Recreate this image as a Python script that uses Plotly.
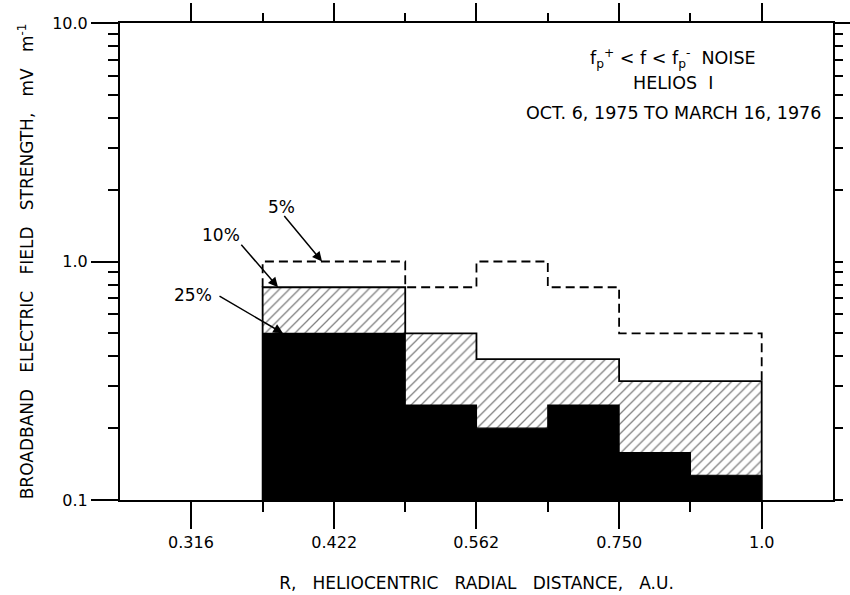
import math
import plotly.graph_objects as go

# ---------------- data ----------------
x_ticks = [0.316, 0.422, 0.562, 0.750, 1.0]
x_labels = ["0.316", "0.422", "0.562", "0.750", "1.0"]
x_minor = [0.3652, 0.4870, 0.6494, 0.8660]
y_ticks = [0.1, 1.0, 10.0]
y_labels = ["0.1", "1.0", "10.0"]
y_minor = [0.2, 0.3, 0.4, 0.5, 0.6, 0.7, 0.8, 0.9, 2, 3, 4, 5, 6, 7, 8, 9]

bin_edges = [0.3652, 0.4870, 0.5623, 0.6494, 0.7499, 0.8660, 1.0]
p5 = [1.0, 0.78, 1.0, 0.78, 0.50, 0.50]
p10 = [0.78, 0.50, 0.39, 0.39, 0.315, 0.315]
p25 = [0.50, 0.25, 0.20, 0.25, 0.158, 0.127]
y_floor = 0.1

FONT = "DejaVu Sans"
SP = "&nbsp;&nbsp;&nbsp;"


def step_polygon(edges, vals, base):
    xs = [edges[0]]
    ys = [base]
    for i, v in enumerate(vals):
        xs += [edges[i], edges[i + 1]]
        ys += [v, v]
    xs += [edges[-1], edges[0]]
    ys += [base, base]
    return xs, ys


fig = go.Figure()

# 10% hatched region
hx, hy = step_polygon(bin_edges, p10, y_floor)
fig.add_trace(go.Scatter(
    x=hx, y=hy, mode="lines", fill="toself",
    fillcolor="white",
    fillpattern=dict(shape="/", fgcolor="black", bgcolor="white", size=7, solidity=0.18),
    line=dict(color="black", width=1.8), hoverinfo="skip", showlegend=False))

# 25% black region
bx, by = step_polygon(bin_edges, p25, y_floor)
fig.add_trace(go.Scatter(
    x=bx, y=by, mode="lines", fill="toself", fillcolor="black",
    line=dict(color="black", width=1.2), hoverinfo="skip", showlegend=False))

# 5% dashed step
dx = [bin_edges[0]]
dy = [p10[0]]
for i, v in enumerate(p5):
    dx += [bin_edges[i], bin_edges[i + 1]]
    dy += [v, v]
dx += [bin_edges[-1]]
dy += [p10[-1]]
fig.add_trace(go.Scatter(
    x=dx, y=dy, mode="lines",
    line=dict(color="black", width=1.8, dash="9px,5px"),
    hoverinfo="skip", showlegend=False))

# invisible trace for the mirrored axes
fig.add_trace(go.Scatter(x=[1.0], y=[1.0], xaxis="x2", yaxis="y2", mode="markers",
                         marker=dict(opacity=0), hoverinfo="skip", showlegend=False))

xr = [-0.5625, 0.0625]
yr = [-1, 1]

fig.update_layout(
    width=850, height=595,
    margin=dict(l=120, r=17, t=23, b=95, autoexpand=False),
    paper_bgcolor="white", plot_bgcolor="white",
    font=dict(family=FONT, size=16, color="black"),
    xaxis=dict(
        type="log", range=xr, tickvals=x_ticks, ticktext=x_labels, automargin=False,
        ticks="outside", ticklen=27, tickwidth=1.5, tickcolor="black",
        showline=True, linewidth=2, linecolor="black", showgrid=False, zeroline=False,
        minor=dict(tickvals=x_minor, ticks="outside", ticklen=10, tickwidth=1.5, tickcolor="black", showgrid=False),
        tickfont=dict(size=16),
        title=dict(text="R," + SP + "HELIOCENTRIC" + SP + "RADIAL" + SP + "DISTANCE," + SP + "A.U.",
                   standoff=26, font=dict(size=17)),
    ),
    xaxis2=dict(
        type="log", range=xr, overlaying="x", side="top", tickvals=x_ticks, automargin=False,
        showticklabels=False, ticks="outside", ticklen=18, tickwidth=1.5, tickcolor="black",
        showline=True, linewidth=2, linecolor="black", showgrid=False, zeroline=False,
        minor=dict(tickvals=x_minor, ticks="outside", ticklen=8, tickwidth=1.5, tickcolor="black", showgrid=False),
    ),
    yaxis=dict(
        type="log", range=yr, tickvals=y_ticks, ticktext=y_labels, automargin=False,
        ticks="outside", ticklen=27, tickwidth=1.5, tickcolor="black",
        showline=True, linewidth=2, linecolor="black", showgrid=False, zeroline=False,
        minor=dict(tickvals=y_minor, ticks="outside", ticklen=10, tickwidth=1.5, tickcolor="black", showgrid=False),
        tickfont=dict(size=16),
        title=dict(text="BROADBAND" + SP + "ELECTRIC" + SP + "FIELD" + SP + "STRENGTH," + SP + "mV" + SP + "m<sup>-1</sup>",
                   standoff=14, font=dict(size=17)),
    ),
    yaxis2=dict(
        type="log", range=yr, overlaying="y", side="right", tickvals=y_ticks, automargin=False,
        showticklabels=False, ticks="outside", ticklen=8, tickwidth=1.5, tickcolor="black",
        showline=True, linewidth=2, linecolor="black", showgrid=False, zeroline=False,
        minor=dict(tickvals=y_minor, ticks="outside", ticklen=8, tickwidth=1.5, tickcolor="black", showgrid=False),
    ),
    shapes=[dict(type="line", xref="paper", yref="paper", x0=1, x1=1.024, y0=1, y1=1,
                 line=dict(color="black", width=2))],
)

# text block
info = [
    ("f<sub>p</sub><sup>+</sup> &lt; f &lt; f<sub>p</sub><sup>-</sup>&nbsp;&nbsp;NOISE", 0.9266),
    ("HELIOS&nbsp;&nbsp;I", 0.874),
    ("OCT. 6, 1975 TO MARCH 16, 1976", 0.811),
]
for t, yy in info:
    fig.add_annotation(text=t, xref="paper", yref="paper", x=0.7756, y=yy,
                       xanchor="center", yanchor="middle", showarrow=False,
                       font=dict(family=FONT, size=17.5, color="black"))

# percent labels
labels = [("5%", 0.227, 0.614), ("10%", 0.142, 0.556), ("25%", 0.102, 0.430)]
for t, px, py in labels:
    fig.add_annotation(text=t, xref="paper", yref="paper", x=px, y=py,
                       xanchor="center", yanchor="middle", showarrow=False,
                       font=dict(family=FONT, size=17, color="black"))

# arrows pointing to each level in the first bin
arrows = [(-0.3854, p5[0], -39, -47), (-0.424, p10[0], -38, -44), (-0.4196, p25[0], -65, -38)]
for ax_log, val, ax, ay in arrows:
    fig.add_annotation(text="", x=ax_log, y=math.log10(val), xref="x", yref="y",
                       ax=ax, ay=ay, showarrow=True, arrowhead=2, arrowsize=1.3,
                       arrowwidth=1.5, arrowcolor="black")

fig.write_html("out.html", config={"displayModeBar": False},
               post_script="document.body.style.margin='0';document.body.style.padding='0';")
